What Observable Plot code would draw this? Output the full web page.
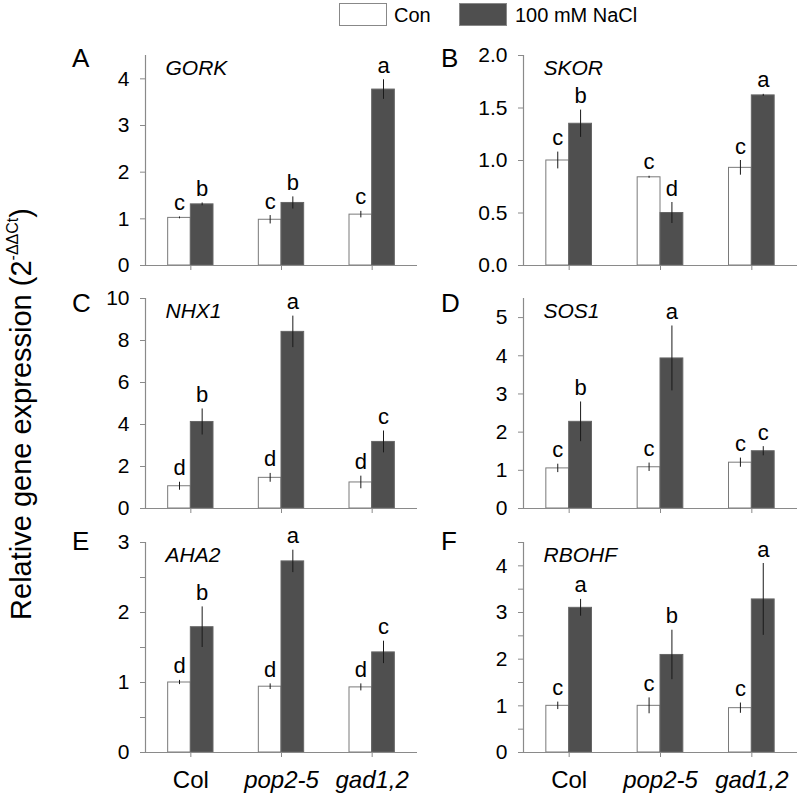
<!DOCTYPE html>
<html><head><meta charset="utf-8">
<script src="https://cdn.jsdelivr.net/npm/d3@7"></script>
<script src="https://cdn.jsdelivr.net/npm/@observablehq/plot@0.6"></script>
<style>
body{margin:0;background:#fff;font-family:"Liberation Sans",Arial,sans-serif;color:#000;}
#wrap{position:relative;width:799px;height:794px;overflow:hidden;background:#fff;}
.plt{position:absolute;}
.plt svg{overflow:visible;}
.letter{position:absolute;font-size:26px;line-height:1;}
.box{position:absolute;border:1px solid #888;box-sizing:border-box;}
.leg{position:absolute;font-size:20px;line-height:1;white-space:nowrap;}
#ytitle{position:absolute;left:21px;top:414px;transform:translate(-50%,-50%) rotate(-90deg);white-space:nowrap;font-size:29px;line-height:1;}
#ytitle sup{font-size:16px;vertical-align:0.8em;line-height:0;}
</style></head><body><div id="wrap"></div>
<script>
// categories
const groups = ["Col", "pop2-5", "gad1,2"];
const treatments = ["Con", "100 mM NaCl"];
const genes = ["GORK", "SKOR", "NHX1", "SOS1", "AHA2", "RBOHF"];
const panelLetters = ["A", "B", "C", "D", "E", "F"];

// values ordered: Col Con, Col NaCl, pop2-5 Con, pop2-5 NaCl, gad1,2 Con, gad1,2 NaCl
const gorkMean = [1.02, 1.31, 0.98, 1.34, 1.09, 3.77];
const gorkErr  = [0.02, 0.03, 0.09, 0.13, 0.07, 0.21];
const gorkSig  = ["c", "b", "c", "b", "c", "a"];

const skorMean = [1.00, 1.35, 0.84, 0.50, 0.93, 1.62];
const skorErr  = [0.08, 0.13, 0.01, 0.10, 0.07, 0.01];
const skorSig  = ["c", "b", "c", "d", "c", "a"];

const nhx1Mean = [1.06, 4.12, 1.46, 8.41, 1.24, 3.17];
const nhx1Err  = [0.19, 0.62, 0.21, 0.75, 0.30, 0.52];
const nhx1Sig  = ["d", "b", "d", "a", "d", "c"];

const sos1Mean = [1.05, 2.27, 1.08, 3.93, 1.20, 1.50];
const sos1Err  = [0.11, 0.52, 0.11, 0.85, 0.12, 0.12];
const sos1Sig  = ["c", "b", "c", "a", "c", "c"];

const aha2Mean = [1.00, 1.79, 0.94, 2.73, 0.93, 1.43];
const aha2Err  = [0.03, 0.29, 0.04, 0.16, 0.05, 0.16];
const aha2Sig  = ["d", "b", "d", "a", "d", "c"];

const rbohfMean = [1.00, 3.10, 1.00, 2.09, 0.95, 3.28];
const rbohfErr  = [0.08, 0.18, 0.17, 0.53, 0.11, 0.77];
const rbohfSig  = ["c", "a", "c", "b", "c", "a"];

// y axis maxima and tick labels
const yMaxima = [4.5, 2, 10, 5.5, 3, 4.5];
const gorkTicks = [0, 1, 2, 3, 4];
const skorTicks = [0, 0.5, 1, 1.5, 2];
const nhx1Ticks = [0, 2, 4, 6, 8, 10];
const sos1Ticks = [0, 1, 2, 3, 4, 5];
const aha2Ticks = [0, 0.5, 1, 1.5, 2, 2.5, 3];
const rbohfTicks = [0, 0.5, 1, 1.5, 2, 2.5, 3, 3.5, 4, 4.5];

const means = [gorkMean, skorMean, nhx1Mean, sos1Mean, aha2Mean, rbohfMean];
const errs = [gorkErr, skorErr, nhx1Err, sos1Err, aha2Err, rbohfErr];
const sigs = [gorkSig, skorSig, nhx1Sig, sos1Sig, aha2Sig, rbohfSig];
const ticks = [gorkTicks, skorTicks, nhx1Ticks, sos1Ticks, aha2Ticks, rbohfTicks];
const tickFmts = [
  d => d, d => d.toFixed(1), d => d, d => d,
  d => Number.isInteger(d) ? d : "", d => Number.isInteger(d) ? d : ""
];

const FONT = '"Liberation Sans", Arial, sans-serif';
const GRAY = "#8a8a8a";
const DARK = "#4f4f4f";
const barWidth = 0.25;
const xDomain = [-0.5, 2.5];

// layout
const cols = [
  {left: 60, width: 360, marginLeft: 85, marginRight: 3, letterLeft: 72},
  {left: 420, width: 379, marginLeft: 103, marginRight: 2, letterLeft: 441}
];
const rowsL = [
  {top: 30, height: 245, marginTop: 25, marginBottom: 10, letterTop: 45},
  {top: 270, height: 248, marginTop: 28, marginBottom: 10, letterTop: 290},
  {top: 515, height: 279, marginTop: 27, marginBottom: 42, letterTop: 528}
];

const wrap = document.getElementById("wrap");

function buildPanel(p) {
  const col = cols[p % 2], row = rowsL[Math.floor(p / 2)];
  const bottom = Math.floor(p / 2) === 2;
  const data = [];
  groups.forEach((g, gi) => treatments.forEach((t, ti) => {
    const k = gi * 2 + ti;
    data.push({g, gi, t, ti, mean: means[p][k], err: errs[p][k], sig: sigs[p][k]});
  }));
  const cx = d => d.gi + (d.ti - 0.5) * barWidth;
  const rect = (ti, fill, stroke) => Plot.rectY(data.filter(d => d.ti === ti), {
    x1: d => d.gi + (d.ti - 1) * barWidth,
    x2: d => d.gi + d.ti * barWidth,
    y: "mean", fill, stroke, strokeWidth: 1
  });
  const gdata = groups.map((name, gi) => ({name, gi}));
  const marks = [
    rect(0, "#ffffff", "#7a7a7a"),
    rect(1, DARK, "#666666"),
    Plot.ruleX(data, {x: cx, y1: d => d.mean - d.err, y2: d => d.mean + d.err, stroke: "#1a1a1a", strokeWidth: 1}),
    Plot.text(data, {x: cx, y: d => d.mean + d.err, text: "sig", lineAnchor: "bottom", dy: -7, fontSize: 22, fill: "#000"}),
    Plot.ruleY([0], {stroke: GRAY, strokeWidth: 1.2}),
    Plot.ruleX([xDomain[0]], {y1: 0, y2: yMaxima[p], stroke: GRAY, strokeWidth: 1.2}),
    Plot.axisY({ticks: ticks[p], tickFormat: tickFmts[p], tickSize: 5, tickPadding: 11, stroke: GRAY, fontSize: 21, label: null}),
    Plot.axisX({ticks: [0, 1, 2], tickFormat: () => "", tickSize: 5, stroke: GRAY, label: null}),
    Plot.text([genes[p]], {frameAnchor: "top-left", text: d => d, dx: 20, dy: 5, lineAnchor: "top", fontStyle: "italic", fontSize: 21, fill: "#000"})
  ];
  if (bottom) {
    marks.push(Plot.text(gdata.filter(d => d.gi === 0), {x: "gi", text: "name", frameAnchor: "bottom", lineAnchor: "bottom", dy: 35, fontSize: 24, fill: "#000"}));
    marks.push(Plot.text(gdata.filter(d => d.gi > 0), {x: "gi", text: "name", frameAnchor: "bottom", lineAnchor: "bottom", dy: 35, fontSize: 24, fontStyle: "italic", fill: "#000"}));
  }
  const chart = Plot.plot({
    width: col.width, height: row.height,
    marginLeft: col.marginLeft, marginRight: col.marginRight,
    marginTop: row.marginTop, marginBottom: row.marginBottom,
    x: {type: "linear", domain: xDomain},
    y: {domain: [0, yMaxima[p]]},
    style: {fontFamily: FONT, fontSize: "21px", background: "transparent", color: "#000", overflow: "visible"},
    marks
  });
  const div = document.createElement("div");
  div.className = "plt";
  div.style.left = col.left + "px";
  div.style.top = row.top + "px";
  div.appendChild(chart);
  wrap.appendChild(div);

  const L = document.createElement("div");
  L.className = "letter";
  L.textContent = panelLetters[p];
  L.style.left = col.letterLeft + "px";
  L.style.top = row.letterTop + "px";
  wrap.appendChild(L);
}

for (let p = 0; p < 6; p++) buildPanel(p);

// legend
const legendItems = [
  {label: treatments[0], fill: "#ffffff", boxLeft: 339, textLeft: 394},
  {label: treatments[1], fill: DARK, boxLeft: 459, textLeft: 515}
];
legendItems.forEach(it => {
  const b = document.createElement("div");
  b.className = "box";
  b.style.left = it.boxLeft + "px"; b.style.top = "3px";
  b.style.width = "48px"; b.style.height = "23px";
  b.style.background = it.fill;
  wrap.appendChild(b);
  const t = document.createElement("div");
  t.className = "leg";
  t.textContent = it.label;
  t.style.left = it.textLeft + "px"; t.style.top = "5px";
  wrap.appendChild(t);
});

// y title
const yt = document.createElement("div");
yt.id = "ytitle";
yt.innerHTML = "Relative gene expression (2<sup>-ΔΔCt</sup>)";
wrap.appendChild(yt);
</script></body></html>
